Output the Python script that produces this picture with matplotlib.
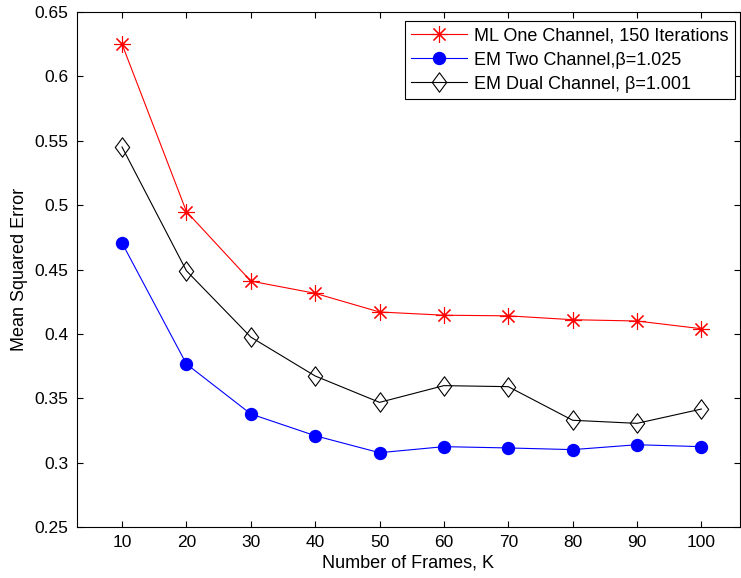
import numpy as np
import matplotlib.pyplot as plt
from matplotlib.path import Path

plt.rcParams['font.family'] = ['Liberation Sans', 'DejaVu Sans']

# data
frames = [10, 20, 30, 40, 50, 60, 70, 80, 90, 100]
ml_one = [0.625, 0.495, 0.441, 0.4315, 0.417, 0.4145, 0.414, 0.411, 0.410, 0.404]
em_two = [0.4706, 0.3766, 0.3378, 0.3209, 0.3077, 0.3124, 0.3114, 0.3101, 0.3139, 0.3124]
em_dual = [0.5451, 0.4490, 0.3975, 0.3673, 0.3468, 0.3598, 0.359, 0.3329, 0.3305, 0.3416]

labels = ['ML One Channel, 150 Iterations',
          'EM Two Channel,\u03b2=1.025',
          'EM Dual Channel, \u03b2=1.001']

# matlab style diamond (taller than wide)
diamond = Path([(0, 1), (0.74, 0), (0, -1), (-0.74, 0), (0, 1)],
               [Path.MOVETO, Path.LINETO, Path.LINETO, Path.LINETO, Path.CLOSEPOLY])

fig = plt.figure(figsize=(7.41, 5.78), dpi=100)
ax = fig.add_axes([77/741, 1 - 527/578, 663/741, 515/578])

ax.plot(frames, ml_one, color='red', lw=0.8, marker=(8, 2, 0),
        markersize=12, markeredgewidth=0.8, label=labels[0])
ax.plot(frames, em_two, color='blue', lw=0.8, marker='o',
        markersize=8.6, markerfacecolor='blue', markeredgecolor='blue', label=labels[1])
ax.plot(frames, em_dual, color='black', lw=0.8, marker=diamond,
        markersize=14, markerfacecolor='none', markeredgewidth=0.8, label=labels[2])

ax.set_xlim(3, 106)
ax.set_ylim(0.25, 0.65)
ax.set_xticks(frames)
ax.set_yticks(np.arange(0.25, 0.651, 0.05))
ax.set_yticklabels(['0.25', '0.3', '0.35', '0.4', '0.45', '0.5', '0.55', '0.6', '0.65'])
ax.tick_params(direction='in', length=4.3, width=0.8, top=True, right=True,
               labelsize=12.5, pad=6)
for s in ax.spines.values():
    s.set_linewidth(0.8)

ax.set_xlabel('Number of Frames, K', fontsize=13, labelpad=3)
ax.set_ylabel('Mean Squared Error', fontsize=13, labelpad=5)

leg = ax.legend(loc='upper right', bbox_to_anchor=(0.9925, 0.9825), borderaxespad=0,
                fontsize=13, handlelength=3.1, labelspacing=0.4, handletextpad=0.4,
                borderpad=0.35, fancybox=False, framealpha=1, edgecolor='black')
leg.get_frame().set_linewidth(0.8)

fig.savefig('out.png', dpi=100)
